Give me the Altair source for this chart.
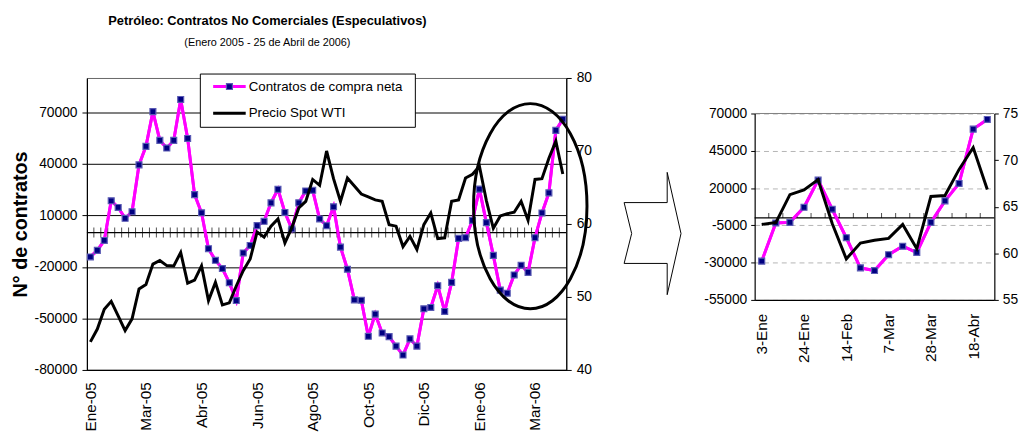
import json
import altair as alt
import pandas as pd

# ---------------- data ----------------
contracts = [
    -14200, -10400, -4600, 18500, 14600, 8300, 12100, 39400, 50200, 70400,
    53650, 49200, 53650, 77500, 54800, 22100, 11500, -9400, -16150, -20960,
    -29200, -39600, -11900, -7500, 4040, 6540, 17300, 25200, 11700, 2100,
    17300, 24200, 24600, 7900, 4000, 15000, -8460, -21340, -39200, -39400,
    -60400, -47500, -58460, -60600, -66150, -71340, -61900, -66150, -44400, -43600,
    -30960, -45960, -29000, -3400, -3000, 7100, 25300, 5800, -13300, -33500,
    -35300, -24700, -19000, -23200, -3000, 11400, 23100, 59500, 66000,
]
price = [
    43.85, 45.6, 48.3, 49.4, 47.4, 45.4, 47.0, 51.1, 51.7, 54.5,
    55.0, 54.3, 54.25, 56.1, 51.9, 52.3, 54.25, 49.5, 52.0, 48.9,
    49.2, 51.5, 53.6, 55.2, 58.9, 58.2, 59.7, 60.7, 57.4, 59.5,
    62.2, 63.1, 66.1, 65.3, 70.0, 66.2, 63.1, 66.3, 65.2, 64.1,
    63.7, 63.3, 63.1, 59.9, 59.7, 56.9, 58.3, 56.5, 59.9, 61.5,
    58.0, 58.1, 63.1, 63.3, 66.3, 66.8, 67.9, 63.2, 59.4, 61.1,
    61.4, 61.6, 63.1, 60.5, 66.1, 66.2, 69.0, 71.35, 66.85,
]
x_labels_main = ["Ene-05", "Mar-05", "Abr-05", "Jun-05", "Ago-05",
                 "Oct-05", "Dic-05", "Ene-06", "Mar-06"]
x_labels_zoom = ["3-Ene", "24-Ene", "14-Feb", "7-Mar", "28-Mar", "18-Abr"]
series_names = ["Contratos de compra neta", "Precio Spot WTI"]
title_text = "Petróleo: Contratos No Comerciales (Especulativos)"
subtitle_text = "(Enero 2005 - 25 de Abril de 2006)"
y_title = "N° de contratos"

main_y_ticks = [-80000, -50000, -20000, 10000, 40000, 70000]
main_p_ticks = [40, 50, 60, 70, 80]
zoom_y_ticks = [-55000, -30000, -5000, 20000, 45000, 70000]
zoom_p_ticks = [55, 60, 65, 70, 75]
MAIN_STEP = 8
ZOOM_STEP = 3
ZOOM_START = 52

# ---------------- styles ----------------
FONT = "Liberation Sans"
MAGENTA = "#FF00FF"
NAVY = "#000080"
MARK_EDGE = "#5a5ab4"
SQ_SIZE = 36

ELLIPSE = ("M 0.553 0 C 0.553 0.5523 0.3054 1 0 1 C -0.3054 1 -0.553 0.5523 -0.553 0 "
           "C -0.553 -0.5523 -0.3054 -1 0 -1 C 0.3054 -1 0.553 -0.5523 0.553 0 Z")
ARROW = ("M -0.465 -0.506 L -0.342 0 L -0.465 0.489 L 0.239 0.489 L 0.239 1 "
         "L 0.465 0 L 0.239 -1 L 0.239 -0.506 Z")

MINUS_FIX = "replace(datum.label, '\u2212', '-')"

n = len(contracts)
df = pd.DataFrame({"i": list(range(n)), "contracts": contracts, "price": price})
dz = df.iloc[ZOOM_START:].reset_index(drop=True)
dz["i"] = list(range(len(dz)))
one = pd.DataFrame({"k": [0]})


def label_expr(labels, step):
    return f"{json.dumps(labels)}[round(datum.value / {step})]"


def panel(data, labels, step, y_dom, y_ticks, p_dom, p_ticks, y_range,
          grid_kw, tick_size, tick_off, ysize, lab_pad, x_lab_pad, y_axis_title,
          top_rule_color=None):
    m = len(data)
    xs = alt.Scale(domain=[-0.5, m - 0.5], nice=False, zero=False)
    sc_kw = dict(nice=False, zero=False)
    if y_range:
        sc_kw["range"] = y_range
    ys = alt.Scale(domain=y_dom, **sc_kw)
    ps = alt.Scale(domain=p_dom, **sc_kw)
    base = alt.Chart(data)
    x_axis = alt.Axis(values=list(range(0, m, step)), labelExpr=label_expr(labels, step),
                      labelAngle=-90, ticks=False, tickSize=0, labelPadding=x_lab_pad,
                      grid=False, domainColor="black", domainWidth=1.2,
                      labelFont=FONT, labelFontSize=15.5, labelColor="black", title=None)
    yaxis_kw = dict(orient="left", values=y_ticks, format="d", labelExpr=MINUS_FIX,
                    tickSize=ysize, tickColor="black", labelPadding=lab_pad,
                    domainColor="black", domainWidth=1.2,
                    labelFont=FONT, labelFontSize=14, labelColor="black", **grid_kw)
    if y_axis_title:
        yaxis_kw.update(title=y_axis_title, titleFont=FONT, titleFontSize=20,
                        titleFontWeight="bold", titleColor="black", titlePadding=4)
    else:
        yaxis_kw.update(title=None)
    y_axis = alt.Axis(**yaxis_kw)
    p_axis = alt.Axis(orient="right", values=p_ticks, grid=False, tickSize=ysize,
                      tickColor="black", labelPadding=lab_pad, domainColor="black",
                      domainWidth=1.2, labelFont=FONT, labelFontSize=14,
                      labelColor="black", title=None)

    layers = []
    mline = base.mark_line(color=MAGENTA, strokeWidth=3).encode(
        x=alt.X("i:Q", scale=xs, axis=x_axis),
        y=alt.Y("contracts:Q", scale=ys, axis=y_axis))
    layers.append(mline)
    if top_rule_color:
        layers.append(alt.Chart(one).mark_rule(color=top_rule_color, strokeWidth=1).encode(
            y=alt.YDatum(y_dom[1], scale=ys, axis=y_axis)))
    zero_rule = alt.Chart(one).mark_rule(color="black", strokeWidth=1.3).encode(
        y=alt.YDatum(0, scale=ys, axis=y_axis))
    ticks = base.transform_filter(f"datum.i < {m - 1}").transform_calculate(
        b="datum.i + 0.5").mark_tick(orient="vertical", size=tick_size, thickness=1,
                                     color="black", yOffset=tick_off).encode(
        x=alt.X("b:Q", scale=xs, axis=x_axis),
        y=alt.YDatum(0, scale=ys, axis=y_axis))
    msq = base.mark_square(size=SQ_SIZE, fill=NAVY, stroke=MARK_EDGE, strokeWidth=1.2,
                           opacity=1).encode(
        x=alt.X("i:Q", scale=xs, axis=x_axis),
        y=alt.Y("contracts:Q", scale=ys, axis=y_axis))
    layers += [zero_rule, ticks, mline, msq]
    g1 = alt.layer(*layers)
    pline = base.mark_line(color="black", strokeWidth=3).encode(
        x=alt.X("i:Q", scale=xs, axis=x_axis),
        y=alt.Y("price:Q", scale=ps, axis=p_axis))
    return g1, pline


# ---------------- left panel ----------------
g1, p1 = panel(df, x_labels_main, MAIN_STEP, [-80000, 90000], main_y_ticks,
               [40, 80], main_p_ticks, None,
               dict(grid=True, gridColor="black", gridWidth=1),
               10, 0, 5, 5, 12, y_title)

legend_box = alt.Chart(one).mark_rect(fill="white", stroke="black", strokeWidth=1).encode(
    x=alt.value(115), x2=alt.value(333), y=alt.value(-4), y2=alt.value(50))
leg_l1 = alt.Chart(one).mark_rule(color=MAGENTA, strokeWidth=3).encode(
    x=alt.value(128), x2=alt.value(161), y=alt.value(8.7))
leg_sq = alt.Chart(one).mark_square(size=SQ_SIZE, fill=NAVY, stroke=MARK_EDGE,
                                    strokeWidth=1.2, opacity=1).encode(
    x=alt.value(144.5), y=alt.value(8.7))
leg_l2 = alt.Chart(one).mark_rule(color="black", strokeWidth=3).encode(
    x=alt.value(128), x2=alt.value(161), y=alt.value(35.7))
leg_t1 = alt.Chart(pd.DataFrame({"name": [series_names[0]]})).mark_text(
    align="left", baseline="middle", font=FONT, fontSize=13.5, color="black").encode(
    text="name:N", x=alt.value(164), y=alt.value(8.7))
leg_t2 = alt.Chart(pd.DataFrame({"name": [series_names[1]]})).mark_text(
    align="left", baseline="middle", font=FONT, fontSize=13.5, color="black").encode(
    text="name:N", x=alt.value(164), y=alt.value(35.7))
ellipse = alt.Chart(one).mark_point(shape=ELLIPSE, size=43264, filled=False,
                                    stroke="black", strokeWidth=3, opacity=1).encode(
    x=alt.value(449.5), y=alt.value(130))
annot1 = alt.layer(legend_box, leg_l1, leg_sq, leg_l2, leg_t1, leg_t2, ellipse)

left = alt.layer(g1, p1, annot1).resolve_scale(y="independent").properties(
    width=486, height=296)

# ---------------- right panel ----------------
g2, p2 = panel(dz, x_labels_zoom, ZOOM_STEP, [-55000, 70000], zoom_y_ticks,
               [55, 75], zoom_p_ticks, [225, 36],
               dict(grid=True, gridColor="#b4b4b4", gridWidth=1, gridDash=[5, 4]),
               5, -2.5, 4, 4, 13.5, None, top_rule_color="#808080")
arrow = alt.Chart(one).mark_point(shape=ARROW, size=15376, filled=False,
                                  stroke="black", strokeWidth=1, opacity=1).encode(
    x=alt.value(-103.5), y=alt.value(157.7))

right = alt.layer(g2, p2, arrow).resolve_scale(y="independent").properties(
    width=243, height=225, view=alt.ViewBackground(stroke="transparent"))

chart = alt.hconcat(left, right, spacing=28).properties(
    title=alt.TitleParams(text=title_text, subtitle=subtitle_text, anchor="middle",
                          dx=-250, font=FONT, fontSize=13, fontWeight="bold",
                          color="black", subtitleFont=FONT, subtitleFontSize=11,
                          subtitleColor="black", subtitlePadding=9, offset=23),
    padding={"left": 1, "top": 4, "right": 0, "bottom": 0},
).configure_view(stroke="#666666", strokeWidth=1)

chart.save("out.html", embed_options={"renderer": "svg", "actions": False})
